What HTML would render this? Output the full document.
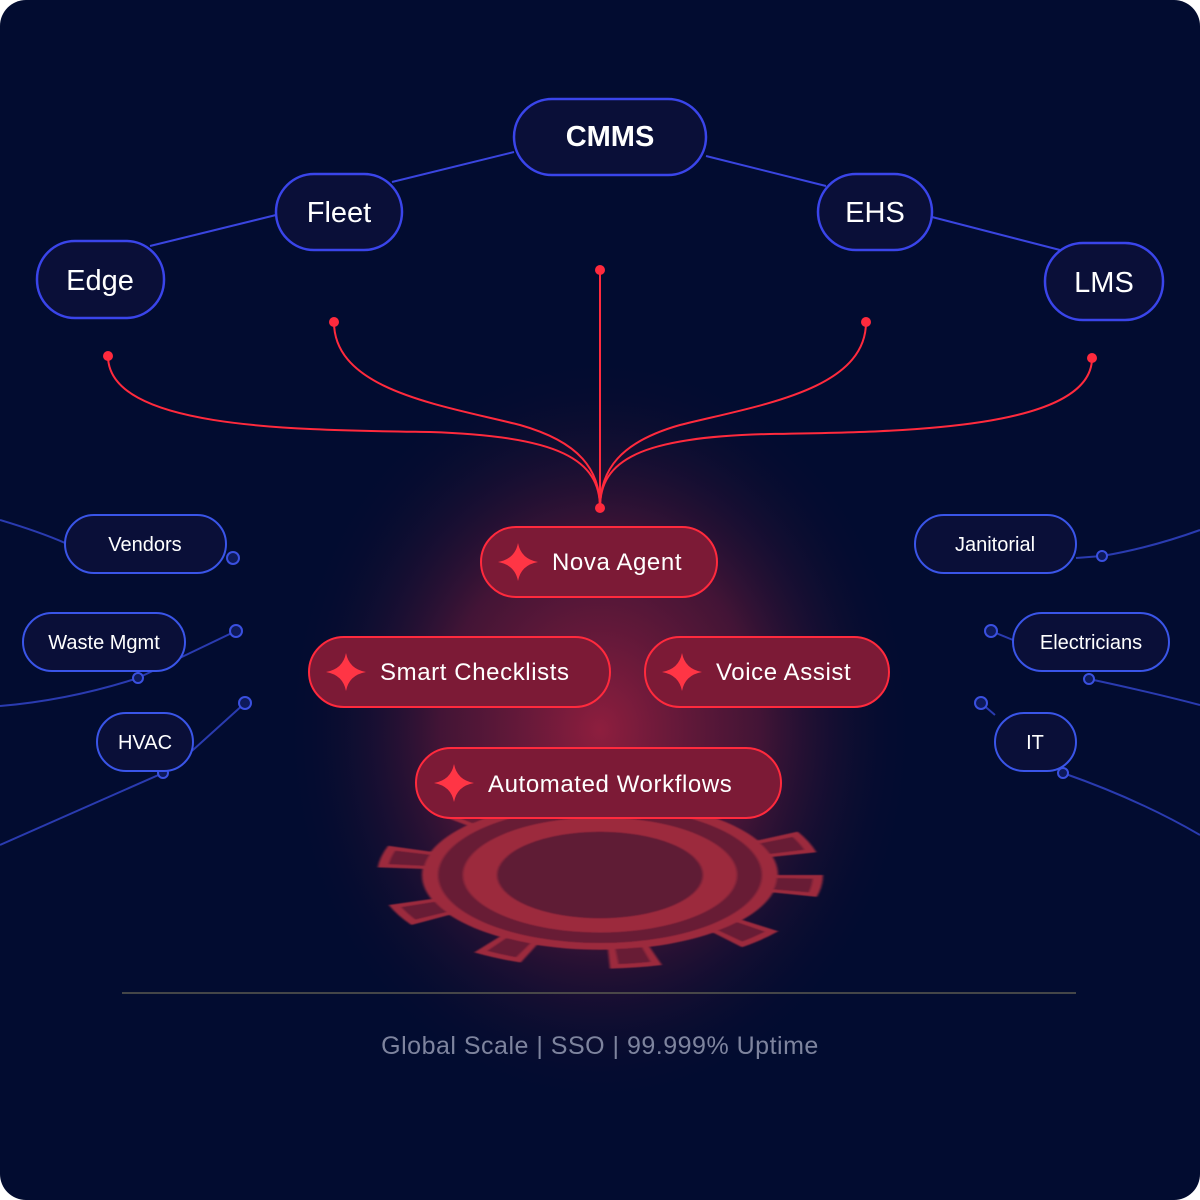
<!DOCTYPE html>
<html><head><style>
html,body{margin:0;padding:0;background:#fff;}
svg{display:block;}
text{font-family:"Liberation Sans",sans-serif;}
</style></head><body>
<svg width="1200" height="1200" viewBox="0 0 1200 1200" xmlns="http://www.w3.org/2000/svg">
<defs>
<radialGradient id="glow" cx="600" cy="730" r="400" gradientUnits="userSpaceOnUse" gradientTransform="translate(600 730) scale(0.8 0.95) translate(-600 -730)">
<stop offset="0" stop-color="#8e1e3e" stop-opacity="1"/>
<stop offset="0.5" stop-color="#5e1838" stop-opacity="0.7"/>
<stop offset="1" stop-color="#020b2e" stop-opacity="0"/>
</radialGradient>
<filter id="soft"><feGaussianBlur stdDeviation="1.2"/></filter>
</defs>
<rect x="0" y="0" width="1200" height="1200" rx="26" fill="#020c30"/>
<rect x="0" y="0" width="1200" height="1200" rx="26" fill="url(#glow)"/>

<!-- gear -->
<g transform="translate(600 875) scale(1 0.42)" fill="none" filter="url(#soft)">
<circle r="195" stroke="#9c2a3c" stroke-width="56" stroke-dasharray="46 79.66"/>
<circle r="178" fill="#9c2a3c"/>
<circle r="195" stroke="#671c36" stroke-width="36" stroke-dasharray="30 95.66" stroke-dashoffset="-8"/>
<circle r="162" fill="#671c36"/>
<circle r="120" stroke="#9c2a3c" stroke-width="34" fill="#5e1a36"/>
</g>

<!-- top connectors -->
<g stroke="#3a45e0" stroke-width="2" fill="none">
<line x1="514" y1="152" x2="392" y2="182"/>
<line x1="276" y1="215" x2="150" y2="246"/>
<line x1="706" y1="156" x2="826" y2="186"/>
<line x1="932" y1="217" x2="1060" y2="250"/>
</g>
<g fill="#0a0f38" stroke="#3a45ea" stroke-width="2.5">
<rect x="514" y="99" width="192" height="76" rx="38"/>
<rect x="276" y="174" width="126" height="76" rx="38"/>
<rect x="37" y="241" width="127" height="77" rx="38"/>
<rect x="818" y="174" width="114" height="76" rx="38"/>
<rect x="1045" y="243" width="118" height="77" rx="38"/>
</g>
<g fill="#fff" font-size="29" text-anchor="middle">
<text x="610" y="146" font-weight="bold">CMMS</text>
<text x="339" y="222">Fleet</text>
<text x="100" y="290">Edge</text>
<text x="875" y="222">EHS</text>
<text x="1104" y="292">LMS</text>
</g>

<!-- red curves -->
<g stroke="#ff2a3d" stroke-width="2" fill="none">
<path d="M108,356 C108,430 300,430 430,432 C560,436 600,460 600,508"/>
<path d="M334,322 C334,390 440,405 520,425 C580,442 600,470 600,508"/>
<path d="M600,270 L600,508"/>
<path d="M866,322 C866,390 760,405 680,425 C620,442 600,470 600,508"/>
<path d="M1092,358 C1092,430 900,432 770,434 C640,437 600,460 600,508"/>
</g>
<g fill="#ff2a3d">
<circle cx="108" cy="356" r="5"/><circle cx="334" cy="322" r="5"/><circle cx="600" cy="270" r="5"/>
<circle cx="866" cy="322" r="5"/><circle cx="1092" cy="358" r="5"/><circle cx="600" cy="508" r="5"/>
</g>

<!-- side connectors -->
<g stroke="#2a3bb0" stroke-width="2" fill="none">
<path d="M0,520 Q40,532 65,543"/>
<path d="M236,631 L138,678 Q70,700 0,706"/>
<path d="M245,703 L193,750 L163,773 Q80,810 0,845"/>
<path d="M1200,530 Q1150,548 1102,556 L1076,558"/>
<path d="M991,631 L1013,640 M1089,679 Q1150,692 1200,705"/>
<path d="M981,703 L995,715 M1063,773 Q1140,800 1200,835"/>
</g>
<g fill="#0e1a5a" stroke="#3a50e0" stroke-width="2">
<circle cx="233" cy="558" r="6"/><circle cx="236" cy="631" r="6"/><circle cx="138" cy="678" r="5"/>
<circle cx="245" cy="703" r="6"/><circle cx="163" cy="773" r="5"/>
<circle cx="1102" cy="556" r="5"/><circle cx="991" cy="631" r="6"/><circle cx="1089" cy="679" r="5"/>
<circle cx="981" cy="703" r="6"/><circle cx="1063" cy="773" r="5"/>
</g>
<g fill="#0a0f38" stroke="#3a55e8" stroke-width="2">
<rect x="65" y="515" width="161" height="58" rx="29"/>
<rect x="23" y="613" width="162" height="58" rx="29"/>
<rect x="97" y="713" width="96" height="58" rx="29"/>
<rect x="915" y="515" width="161" height="58" rx="29"/>
<rect x="1013" y="613" width="156" height="58" rx="29"/>
<rect x="995" y="713" width="81" height="58" rx="29"/>
</g>
<g fill="#fff" font-size="20" text-anchor="middle">
<text x="145" y="551">Vendors</text>
<text x="104" y="649">Waste Mgmt</text>
<text x="145" y="749">HVAC</text>
<text x="995" y="551">Janitorial</text>
<text x="1091" y="649">Electricians</text>
<text x="1035" y="749">IT</text>
</g>

<!-- red pills -->
<g fill="#7c1a36" stroke="#ff2a3d" stroke-width="2">
<rect x="481" y="527" width="236" height="70" rx="35"/>
<rect x="309" y="637" width="301" height="70" rx="35"/>
<rect x="645" y="637" width="244" height="70" rx="35"/>
<rect x="416" y="748" width="365" height="70" rx="35"/>
</g>
<g fill="#ff3545">
<path d="M518,543 Q521,559 538,562 Q521,565 518,581 Q515,565 498,562 Q515,559 518,543Z"/>
<path d="M346,653 Q349,669 366,672 Q349,675 346,691 Q343,675 326,672 Q343,669 346,653Z"/>
<path d="M682,653 Q685,669 702,672 Q685,675 682,691 Q679,675 662,672 Q679,669 682,653Z"/>
<path d="M454,764 Q457,780 474,783 Q457,786 454,802 Q451,786 434,783 Q451,780 454,764Z"/>
</g>
<g fill="#fff" font-size="24" letter-spacing="0.6">
<text x="552" y="570">Nova Agent</text>
<text x="380" y="680">Smart Checklists</text>
<text x="716" y="680">Voice Assist</text>
<text x="488" y="792">Automated Workflows</text>
</g>

<line x1="122" y1="993" x2="1076" y2="993" stroke="#5a5a50" stroke-width="1.5"/>
<text x="600" y="1054" text-anchor="middle" fill="#7e849e" font-size="25" letter-spacing="0.5">Global Scale | SSO | 99.999% Uptime</text>
</svg>
</body></html>
